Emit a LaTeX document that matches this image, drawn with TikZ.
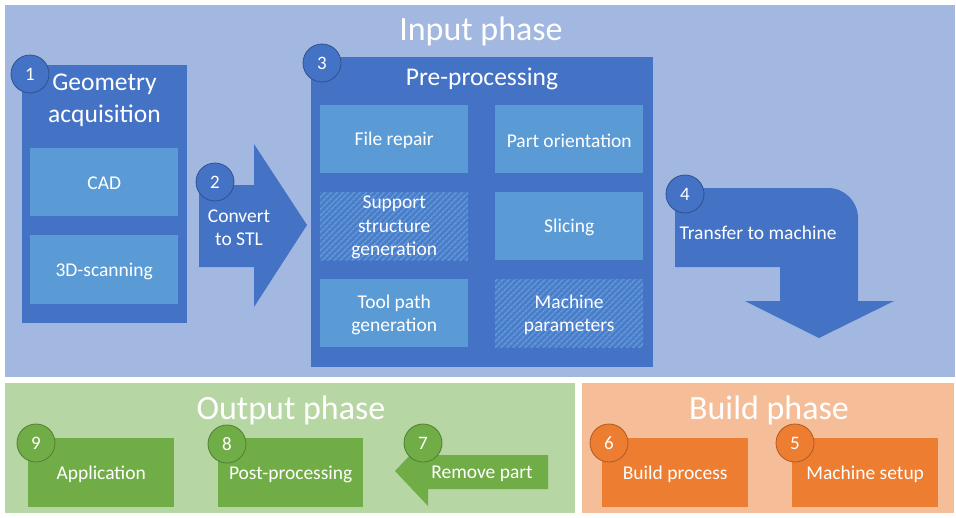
\documentclass[tikz,border=0pt]{standalone}
\usepackage{fontspec}
\setmainfont{Carlito}
\usepackage{tikz}
\usetikzlibrary{positioning,patterns.meta}
\definecolor{inbg}{HTML}{A2B8E0}
\definecolor{outbg}{HTML}{B6D6A3}
\definecolor{buildbg}{HTML}{F5BE98}
\definecolor{darkblue}{HTML}{4472C4}
\definecolor{lightblue}{HTML}{5B9BD5}
\definecolor{hatchbg}{HTML}{4B7BC9}
\definecolor{blueline}{HTML}{2F528F}
\definecolor{green}{HTML}{70AD47}
\definecolor{greenline}{HTML}{507E32}
\definecolor{orange}{HTML}{ED7D31}
\definecolor{orangeline}{HTML}{AE5A21}
\tikzset{
  phasebox/.style={anchor=north west, draw=none, inner sep=0pt},
  box/.style={anchor=north west, draw=none, inner sep=0pt, minimum width=#1},
  box/.default=148,
  sub/.style={box, fill=lightblue, minimum height=68},
  hatched/.style={fill=none, preaction={fill=hatchbg},
    postaction={pattern={Lines[angle=45,distance=4pt,line width=1.7pt]}, pattern color=lightblue}},
  lbl/.style={text=white, align=center, yshift=-1.5pt, font=\fontsize{19.5}{23.5}\selectfont},
  head/.style={text=white, align=center, font=\fontsize{25.5}{32}\selectfont},
  title/.style={text=white, anchor=base, font=\fontsize{34}{34}\selectfont},
  num/.style={circle, minimum size=38, inner sep=0pt, line width=0.8pt,
    text=white, font=\fontsize{19}{19}\selectfont},
  bluenum/.style={num, fill=darkblue, draw=blueline},
  greennum/.style={num, fill=green, draw=greenline},
  orangenum/.style={num, fill=orange, draw=orangeline}
}
\begin{document}
\begin{tikzpicture}[x=1pt,y=-1pt]
\useasboundingbox (0,0) rectangle (956,517);

% phases
\node[phasebox, fill=inbg, minimum width=950, minimum height=372] (input) at (5,5) {};
\node[phasebox, fill=outbg, minimum width=570, minimum height=130] (output) at (5,383) {};
\node[phasebox, fill=buildbg, minimum width=372, minimum height=130] (build) at (582,383) {};
\node[title] (inputtitle) at (481,40) {Input phase};
\node[title] (outputtitle) at (291,419) {Output phase};
\node[title] (buildtitle) at (769,419) {Build phase};

% geometry acquisition
\node[box=165, fill=darkblue, minimum height=258] (geo) at (22,65) {};
\node[head] (geohead) at (104.5,100) {Geometry\\acquisition};
\node[sub] (cad) at (30,148) {};
\node[lbl] at (cad.center) {CAD};
\node[sub, minimum height=69] (scan) at (30,235) {};
\node[lbl] at (scan.center) {3D-scanning};

% convert
\fill[darkblue] (199,185) -- (254,185) -- (254,144) -- (307,225) -- (254,307)
  -- (254,267) -- (199,267) -- cycle;
\node[lbl] (convert) at (239,226) {Convert\\to STL};

% pre-processing
\node[box=342, fill=darkblue, minimum height=310] (pre) at (311,57) {};
\node[head] (prehead) at (482,79) {Pre-processing};
\node[sub] (repair) at (320,105) {};
\node[sub] (orient) at (495,105) {};
\node[sub, hatched] (support) at (320,192) {};
\node[sub] (slice) at (495,192) {};
\node[sub] (toolpath) at (320,279) {};
\node[sub, hatched] (params) at (495,279) {};
\node[lbl] at (repair.center) {File repair};
\node[lbl] at (orient.center) {Part orientation};
\node[lbl] at (support.center) {Support\\structure\\generation};
\node[lbl] at (slice.center) {Slicing};
\node[lbl] at (toolpath.center) {Tool path\\generation};
\node[lbl] at (params.center) {Machine\\parameters};

% transfer
\fill[darkblue] (675,188) -- (828,188) arc[start angle=-90, end angle=0, radius=30]
  -- (858,301) -- (894,301) -- (819,338) -- (745,301) -- (780,301)
  -- (780,267) -- (675,267) -- cycle;
\node[lbl, anchor=west] (transfer) at (676,231) {Transfer to machine};

% build phase
\node[box=146, fill=orange, minimum height=69] (setup) at (792,438) {};
\node[lbl] at (setup.center) {Machine setup};
\node[box=146, fill=orange, minimum height=69] (process) at (602,438) {};
\node[lbl] at (process.center) {Build process};

% output phase
\fill[green] (548,455) -- (428,455) -- (428,436) -- (395,471) -- (428,506)
  -- (428,489) -- (548,489) -- cycle;
\node[lbl] (remove) at (482,472) {Remove part};
\node[box=145, fill=green, minimum height=69] (post) at (218,438) {};
\node[lbl] at (post.center) {Post-processing};
\node[box=146, fill=green, minimum height=69] (app) at (28,438) {};
\node[lbl] at (app.center) {Application};

% step numbers
\node[bluenum] (n1) at (30,74) {1};
\node[bluenum] (n2) at (215,182) {2};
\node[bluenum] (n3) at (322,63) {3};
\node[bluenum] (n4) at (685,194) {4};
\node[orangenum] (n5) at (795,443) {5};
\node[orangenum] (n6) at (609,443) {6};
\node[greennum] (n7) at (423,443) {7};
\node[greennum] (n8) at (227,444) {8};
\node[greennum] (n9) at (36,443) {9};
\end{tikzpicture}
\end{document}
